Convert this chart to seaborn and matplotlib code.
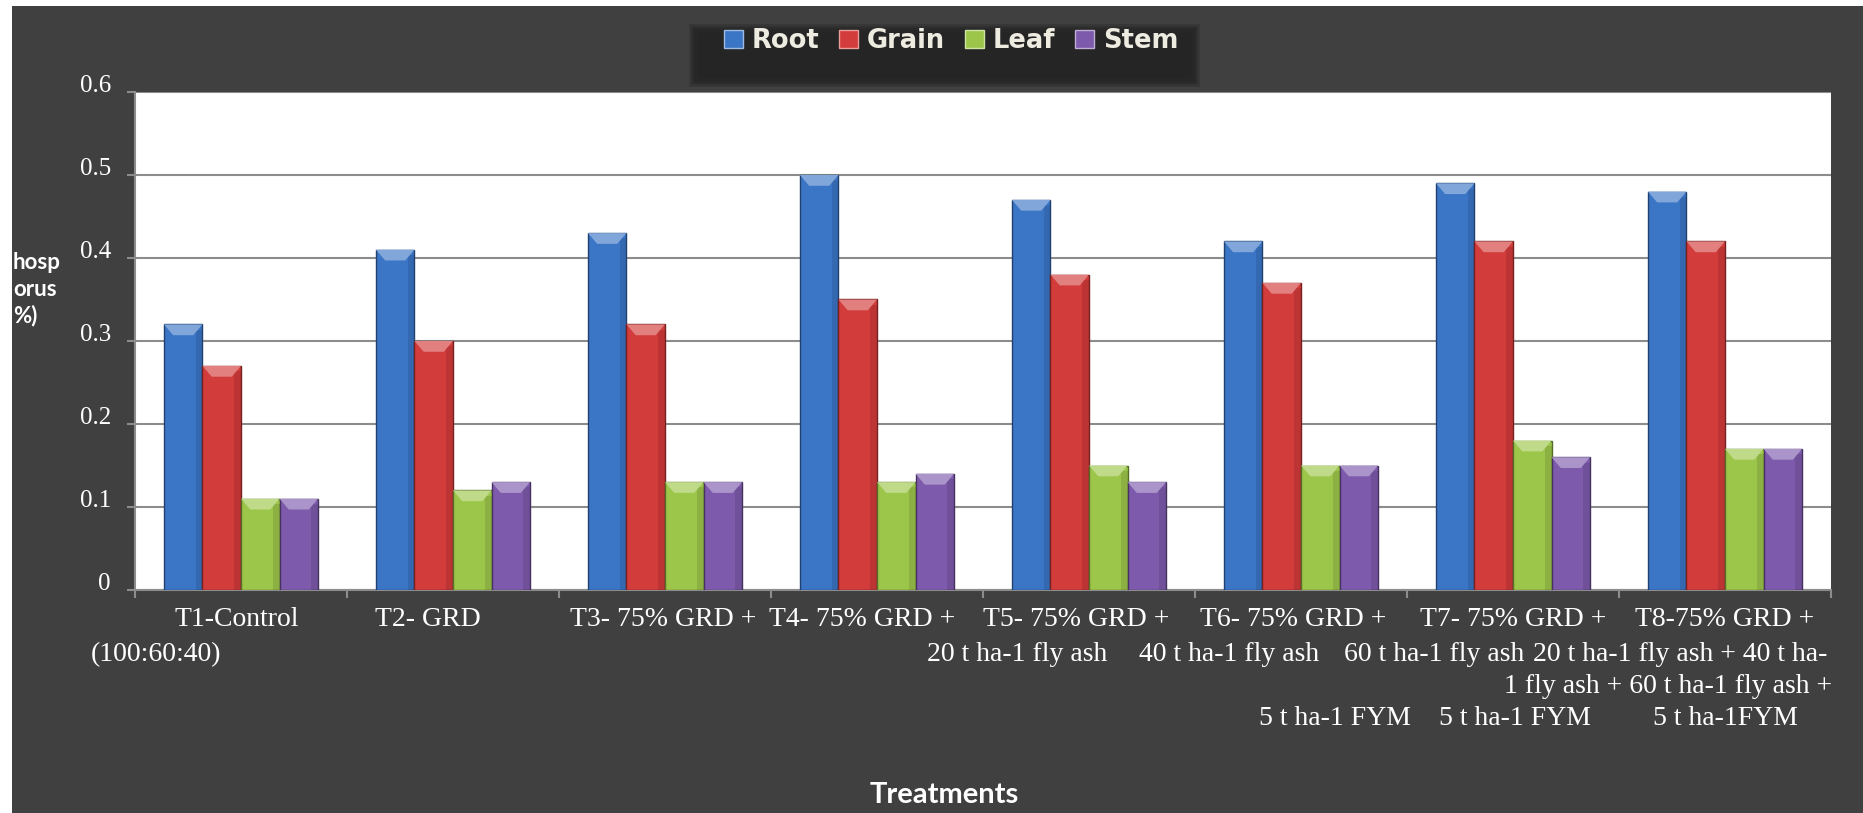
import numpy as np
import pandas as pd
import matplotlib
matplotlib.use("Agg")
import matplotlib.pyplot as plt
import matplotlib.colors as mcolors
import seaborn as sns
from matplotlib.patches import Rectangle, Polygon, Patch
from matplotlib.transforms import blended_transform_factory, ScaledTranslation

# ---- data -------------------------------------------------------------
treatments = ["T1-Control", "T2- GRD", "T3- 75% GRD +", "T4- 75% GRD +",
              "T5- 75% GRD +", "T6- 75% GRD +", "T7- 75% GRD +", "T8-75% GRD +"]
parts = ["Root", "Grain", "Leaf", "Stem"]
root = [0.32, 0.41, 0.43, 0.50, 0.47, 0.42, 0.49, 0.48]
grain = [0.27, 0.30, 0.32, 0.35, 0.38, 0.37, 0.42, 0.42]
leaf = [0.11, 0.12, 0.13, 0.13, 0.15, 0.15, 0.18, 0.17]
stem = [0.11, 0.13, 0.13, 0.14, 0.13, 0.15, 0.16, 0.17]
yticks = [0, 0.1, 0.2, 0.3, 0.4, 0.5, 0.6]
ytick_labels = ["0", "0.1", "0.2", "0.3", "0.4", "0.5", "0.6"]
# wrapped continuation lines of the treatment names
label_tails = ["(100:60:40)", "20 t ha-1 fly ash", "40 t ha-1 fly ash",
               "60 t ha-1 fly ash", "20 t ha-1 fly ash + 40 t ha-",
               "1 fly ash + 60 t ha-1 fly ash +",
               "5 t ha-1 FYM", "5 t ha-1 FYM", "5 t ha-1FYM"]
ylabel_lines = ["hosp", "orus", "%)"]
xlabel = "Treatments"

# ---- layout / style ---------------------------------------------------
W, H = 1863, 813
BG = "#404040"
GRID = "#8c8c8c"
TXT = "#ffffff"
palette = {"Root": "#3b76c6", "Grain": "#d23c3a", "Leaf": "#9cc64a", "Stem": "#7e5aac"}
# horizontal nudge (px) of the first line of each category name
row1_shift = [-4, -25, -2, -15, -13, -8, 0, 0]
# (x in category units, baseline in px from top) for each continuation line
tail_layout = [(-0.40, 661), (3.66, 661), (4.66, 661), (5.63, 661), (6.79, 661),
               (6.73, 693),
               (5.16, 725), (6.01, 725), (7.00, 725)]
# (left edge px, centre px from top) for the axis-title lines
ylabel_layout = [(13, 262), (13, 289), (13, 316)]

SERIF = "Liberation Serif"


def shade(c, f):
    r, g, b = mcolors.to_rgb(c)
    return (r * f, g * f, b * f)


def tint(c, f):
    r, g, b = mcolors.to_rgb(c)
    return (r + (1 - r) * f, g + (1 - g) * f, b + (1 - b) * f)


df = pd.DataFrame({
    "treatment": np.repeat(treatments, len(parts)),
    "part": parts * len(treatments),
    "value": np.ravel(np.column_stack([root, grain, leaf, stem])),
})

fig = plt.figure(figsize=(W / 100, H / 100), dpi=100)
fig.patch.set_facecolor(BG)
ax = fig.add_axes([135 / W, 1 - 590 / H, (1831 - 135) / W, (590 - 92) / H])
ax.set_facecolor("white")

sns.barplot(data=df, x="treatment", y="value", hue="part", order=treatments,
            hue_order=parts, palette=palette, width=0.727, gap=0,
            saturation=1, errorbar=None, legend=False, ax=ax, zorder=3)

# bevelled look for the bars
ybev = 0.013
for bar in list(ax.patches):
    h = bar.get_height()
    if h <= 0:
        continue
    fc = bar.get_facecolor()
    bar.set_edgecolor(shade(fc, 0.55))
    bar.set_linewidth(1.0)
    x0, w = bar.get_x(), bar.get_width()
    bx = w * 0.24
    ax.add_patch(Polygon([(x0, h), (x0 + w, h), (x0 + w - bx, h - ybev), (x0 + bx, h - ybev)],
                         closed=True, facecolor=tint(fc, 0.35), edgecolor="none", zorder=3.2))
    ax.add_patch(Rectangle((x0 + w * 0.82, 0), w * 0.18, h - ybev * 0.5,
                           facecolor="black", alpha=0.10, edgecolor="none", zorder=3.1))

ax.set_xlim(-0.5, len(treatments) - 0.5)
ax.set_ylim(0, 0.6)
ax.set_yticks(yticks)
ax.set_yticklabels(ytick_labels, family=SERIF, fontsize=18, color=TXT)
ax.set_xticks(range(len(treatments)))
ax.set_xticklabels(treatments, family=SERIF, fontsize=20, color=TXT)
ax.set_xticks(np.arange(-0.5, len(treatments), 1), minor=True)
ax.tick_params(axis="x", which="major", length=0, pad=25.9)
ax.tick_params(axis="x", which="minor", length=5.8, width=1.5, color=GRID)
ax.tick_params(axis="y", length=5.8, width=1.5, color=GRID, pad=11.5)
for lab in ax.get_yticklabels():
    lab.set_verticalalignment("baseline")
for lab, dx in zip(ax.get_xticklabels(), row1_shift):
    lab.set_verticalalignment("baseline")
    lab.set_transform(lab.get_transform() + ScaledTranslation(dx / 100, 0, fig.dpi_scale_trans))
ax.set_xlabel("")
ax.set_ylabel("")

ax.grid(axis="y", color=GRID, linewidth=1.5)
ax.grid(axis="x", visible=False)
ax.set_axisbelow(True)
for side in ("top", "right"):
    ax.spines[side].set_visible(False)
for side in ("left", "bottom"):
    ax.spines[side].set_color(GRID)
    ax.spines[side].set_linewidth(1.5)

# continuation lines of the category names
tr = blended_transform_factory(ax.transData, fig.transFigure)
for txt, (xc, base) in zip(label_tails, tail_layout):
    ax.text(xc, 1 - base / H, txt, transform=tr, ha="center", va="baseline",
            family=SERIF, fontsize=20, color=TXT, clip_on=False)

# axis titles
fig.text(944 / W, 1 - 795 / H, xlabel, ha="center", va="center",
         family="Lato", weight="bold", fontsize=21, color=TXT)
for txt, (xl, yc) in zip(ylabel_lines, ylabel_layout):
    fig.text(xl / W, 1 - yc / H, txt, ha="left", va="center",
             family="Lato", weight="bold", fontsize=16, color=TXT)

# legend panel with soft edges
lx0, lx1, ly0, ly1 = 694, 1195, 29, 82
n = 8
for k in range(n):
    e = (n - k) * 1.2 - 5
    fig.add_artist(Rectangle(((lx0 - e) / W, 1 - (ly1 + e) / H),
                             (lx1 - lx0 + 2 * e) / W, (ly1 - ly0 + 2 * e) / H,
                             transform=fig.transFigure, facecolor="#252525",
                             edgecolor="none", alpha=0.3, zorder=1))

handles = [Patch(facecolor=palette[p], edgecolor=tint(palette[p], 0.5)) for p in parts]
leg = fig.legend(handles, parts, loc="center", bbox_to_anchor=(951 / W, 1 - 41 / H),
                 ncol=4, frameon=False, handlelength=0.75, handleheight=0.75,
                 handletextpad=0.35, columnspacing=0.75, borderpad=0,
                 prop={"family": "DejaVu Sans", "weight": "bold", "size": 18.5},
                 labelcolor="#eeece1")
leg.set_zorder(5)

# white margin of the image
fig.add_artist(Rectangle((0, 0), 12 / W, 1, transform=fig.transFigure,
                         facecolor="white", edgecolor="none", zorder=100))
fig.add_artist(Rectangle((0, 1 - 6 / H), 1, 6 / H, transform=fig.transFigure,
                         facecolor="white", edgecolor="none", zorder=100))

fig.savefig("out.png", dpi=100, facecolor=fig.get_facecolor())
